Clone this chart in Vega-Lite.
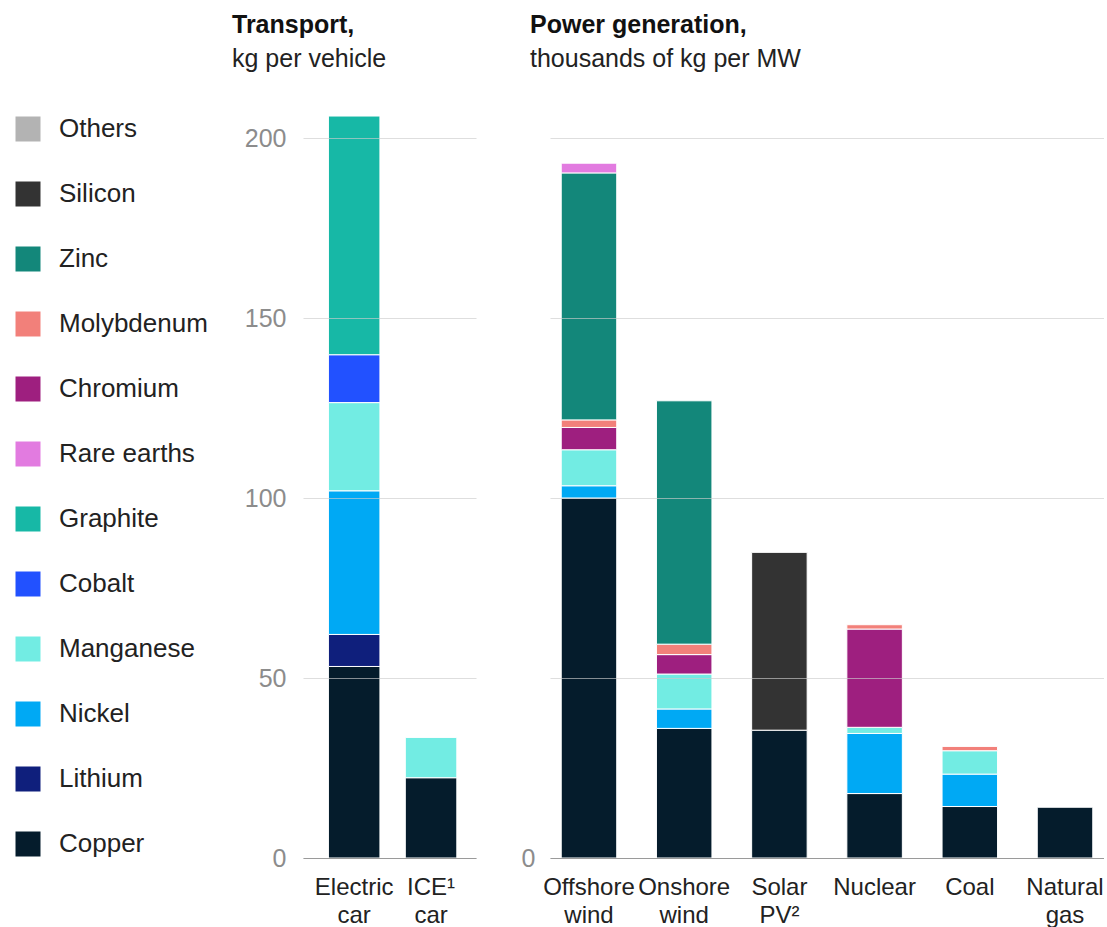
{
  "$schema": "https://vega.github.io/schema/vega-lite/v6.json",
  "background": "white",
  "padding": {"left": 15, "top": 13, "right": 0, "bottom": 0},
  "bounds": "flush",
  "spacing": 74,
  "config": {
    "font": "Liberation Sans",
    "view": {"stroke": null},
    "title": {
      "anchor": "start",
      "frame": "group",
      "fontSize": 25,
      "fontWeight": "bold",
      "color": "#111111",
      "subtitleFontSize": 25,
      "subtitleColor": "#222222",
      "subtitlePadding": 9,
      "offset": 30
    },
    "legend": {
      "orient": "none",
      "title": null,
      "padding": 0,
      "symbolType": "square",
      "symbolSize": 625,
      "symbolStrokeWidth": 0,
      "symbolOpacity": 1,
      "labelFontSize": 26,
      "labelColor": "#222222",
      "labelOffset": 18,
      "rowPadding": 39
    }
  },
  "data": {
    "values": [
      {"group": "Transport", "source": "Electric car", "metal": "Copper", "value": 53.2},
      {"group": "Transport", "source": "Electric car", "metal": "Lithium", "value": 8.9},
      {"group": "Transport", "source": "Electric car", "metal": "Nickel", "value": 39.9},
      {"group": "Transport", "source": "Electric car", "metal": "Manganese", "value": 24.5},
      {"group": "Transport", "source": "Electric car", "metal": "Cobalt", "value": 13.3},
      {"group": "Transport", "source": "Electric car", "metal": "Graphite", "value": 66.3},
      {"group": "Transport", "source": "ICE¹ car", "metal": "Copper", "value": 22.3},
      {"group": "Transport", "source": "ICE¹ car", "metal": "Manganese", "value": 11.2},
      {"group": "Power", "source": "Offshore wind", "metal": "Copper", "value": 100},
      {"group": "Power", "source": "Offshore wind", "metal": "Nickel", "value": 3.4},
      {"group": "Power", "source": "Offshore wind", "metal": "Manganese", "value": 10},
      {"group": "Power", "source": "Offshore wind", "metal": "Chromium", "value": 6.2},
      {"group": "Power", "source": "Offshore wind", "metal": "Molybdenum", "value": 2.1},
      {"group": "Power", "source": "Offshore wind", "metal": "Zinc", "value": 68.6},
      {"group": "Power", "source": "Offshore wind", "metal": "Rare earths", "value": 2.7},
      {"group": "Power", "source": "Onshore wind", "metal": "Copper", "value": 36},
      {"group": "Power", "source": "Onshore wind", "metal": "Nickel", "value": 5.4},
      {"group": "Power", "source": "Onshore wind", "metal": "Manganese", "value": 9.7},
      {"group": "Power", "source": "Onshore wind", "metal": "Chromium", "value": 5.4},
      {"group": "Power", "source": "Onshore wind", "metal": "Molybdenum", "value": 2.9},
      {"group": "Power", "source": "Onshore wind", "metal": "Zinc", "value": 67.6},
      {"group": "Power", "source": "Solar PV²", "metal": "Copper", "value": 35.5},
      {"group": "Power", "source": "Solar PV²", "metal": "Silicon", "value": 49.4},
      {"group": "Power", "source": "Nuclear", "metal": "Copper", "value": 17.9},
      {"group": "Power", "source": "Nuclear", "metal": "Nickel", "value": 16.7},
      {"group": "Power", "source": "Nuclear", "metal": "Manganese", "value": 1.7},
      {"group": "Power", "source": "Nuclear", "metal": "Chromium", "value": 27.3},
      {"group": "Power", "source": "Nuclear", "metal": "Molybdenum", "value": 1.2},
      {"group": "Power", "source": "Coal", "metal": "Copper", "value": 14.3},
      {"group": "Power", "source": "Coal", "metal": "Nickel", "value": 9.0},
      {"group": "Power", "source": "Coal", "metal": "Manganese", "value": 6.5},
      {"group": "Power", "source": "Coal", "metal": "Molybdenum", "value": 1.2},
      {"group": "Power", "source": "Natural gas", "metal": "Copper", "value": 14.1}
    ]
  },
  "transform": [
    {"calculate": "indexof(['Copper', 'Lithium', 'Nickel', 'Manganese', 'Cobalt', 'Graphite', 'Silicon', 'Chromium', 'Molybdenum', 'Zinc', 'Rare earths', 'Others'], datum.metal)", "as": "stackRank"}
  ],
  "hconcat": [
    {
      "title": {"text": "Transport,", "subtitle": "kg per vehicle", "dx": -71},
      "width": 173,
      "height": 756,
      "transform": [{"filter": "datum.group === 'Transport'"}],
      "mark": {"type": "bar", "stroke": "white", "strokeWidth": 1},
      "encoding": {
        "x": {
          "field": "source",
          "type": "nominal",
          "sort": ["Electric car", "ICE¹ car"],
          "scale": {"paddingInner": 0.33, "paddingOuter": 0.29, "align": 0.57},
          "axis": {
            "title": null,
            "labelAngle": 0,
            "ticks": false,
            "domain": true,
            "domainColor": "#9a9a9a",
            "labelFontSize": 24,
            "labelColor": "#222222",
            "labelPadding": 17,
            "labelLineHeight": 28,
            "labelExpr": "split(datum.label, ' ')",
            "zindex": 1
          }
        },
        "y": {
          "field": "value",
          "type": "quantitative",
          "stack": "zero",
          "scale": {"domain": [0, 210], "nice": false},
          "axis": {
            "title": null,
            "values": [0, 50, 100, 150, 200],
            "grid": true,
            "gridColor": "#cccccc",
            "gridOpacity": 0.65,
            "domain": false,
            "ticks": false,
            "labelFontSize": 25,
            "labelColor": "#8c8c8c",
            "labelPadding": 17,
            "zindex": 1
          }
        },
        "order": {"field": "stackRank", "type": "quantitative", "sort": "ascending"},
        "color": {
          "field": "metal",
          "type": "nominal",
          "scale": {
            "domain": ["Copper", "Lithium", "Nickel", "Manganese", "Cobalt", "Graphite", "Silicon", "Chromium", "Molybdenum", "Zinc", "Rare earths", "Others"],
            "range": ["#051c2c", "#0f1f7c", "#00a9f4", "#72ece3", "#2251ff", "#17b8a6", "#333333", "#9e1f7f", "#f2807a", "#13877a", "#e27be0", "#b3b3b3"]
          },
          "legend": {
            "legendX": -288,
            "legendY": 14,
            "values": ["Others", "Silicon", "Zinc", "Molybdenum", "Chromium", "Rare earths", "Graphite", "Cobalt", "Manganese", "Nickel", "Lithium", "Copper"]
          }
        }
      }
    },
    {
      "title": {"text": "Power generation,", "subtitle": "thousands of kg per MW", "dx": -20},
      "width": 554,
      "height": 756,
      "transform": [{"filter": "datum.group === 'Power'"}],
      "mark": {"type": "bar", "stroke": "white", "strokeWidth": 1},
      "encoding": {
        "x": {
          "field": "source",
          "type": "nominal",
          "sort": ["Offshore wind", "Onshore wind", "Solar PV²", "Nuclear", "Coal", "Natural gas"],
          "scale": {"paddingInner": 0.417, "paddingOuter": 0.118, "align": 0.5},
          "axis": {
            "title": null,
            "labelAngle": 0,
            "ticks": false,
            "domain": true,
            "domainColor": "#9a9a9a",
            "labelFontSize": 24,
            "labelColor": "#222222",
            "labelPadding": 17,
            "labelLineHeight": 28,
            "labelExpr": "split(datum.label, ' ')",
            "zindex": 1
          }
        },
        "y": {
          "field": "value",
          "type": "quantitative",
          "stack": "zero",
          "scale": {"domain": [0, 210], "nice": false},
          "axis": {
            "title": null,
            "values": [0, 50, 100, 150, 200],
            "labelExpr": "datum.value === 0 ? '0' : ''",
            "grid": true,
            "gridColor": "#cccccc",
            "gridOpacity": 0.65,
            "domain": false,
            "ticks": false,
            "labelFontSize": 25,
            "labelColor": "#8c8c8c",
            "labelPadding": 15,
            "zindex": 1
          }
        },
        "order": {"field": "stackRank", "type": "quantitative", "sort": "ascending"},
        "color": {
          "field": "metal",
          "type": "nominal",
          "scale": {
            "domain": ["Copper", "Lithium", "Nickel", "Manganese", "Cobalt", "Graphite", "Silicon", "Chromium", "Molybdenum", "Zinc", "Rare earths", "Others"],
            "range": ["#051c2c", "#0f1f7c", "#00a9f4", "#72ece3", "#2251ff", "#17b8a6", "#333333", "#9e1f7f", "#f2807a", "#13877a", "#e27be0", "#b3b3b3"]
          },
          "legend": {
            "legendX": -288,
            "legendY": 14,
            "values": ["Others", "Silicon", "Zinc", "Molybdenum", "Chromium", "Rare earths", "Graphite", "Cobalt", "Manganese", "Nickel", "Lithium", "Copper"]
          }
        }
      }
    }
  ]
}
